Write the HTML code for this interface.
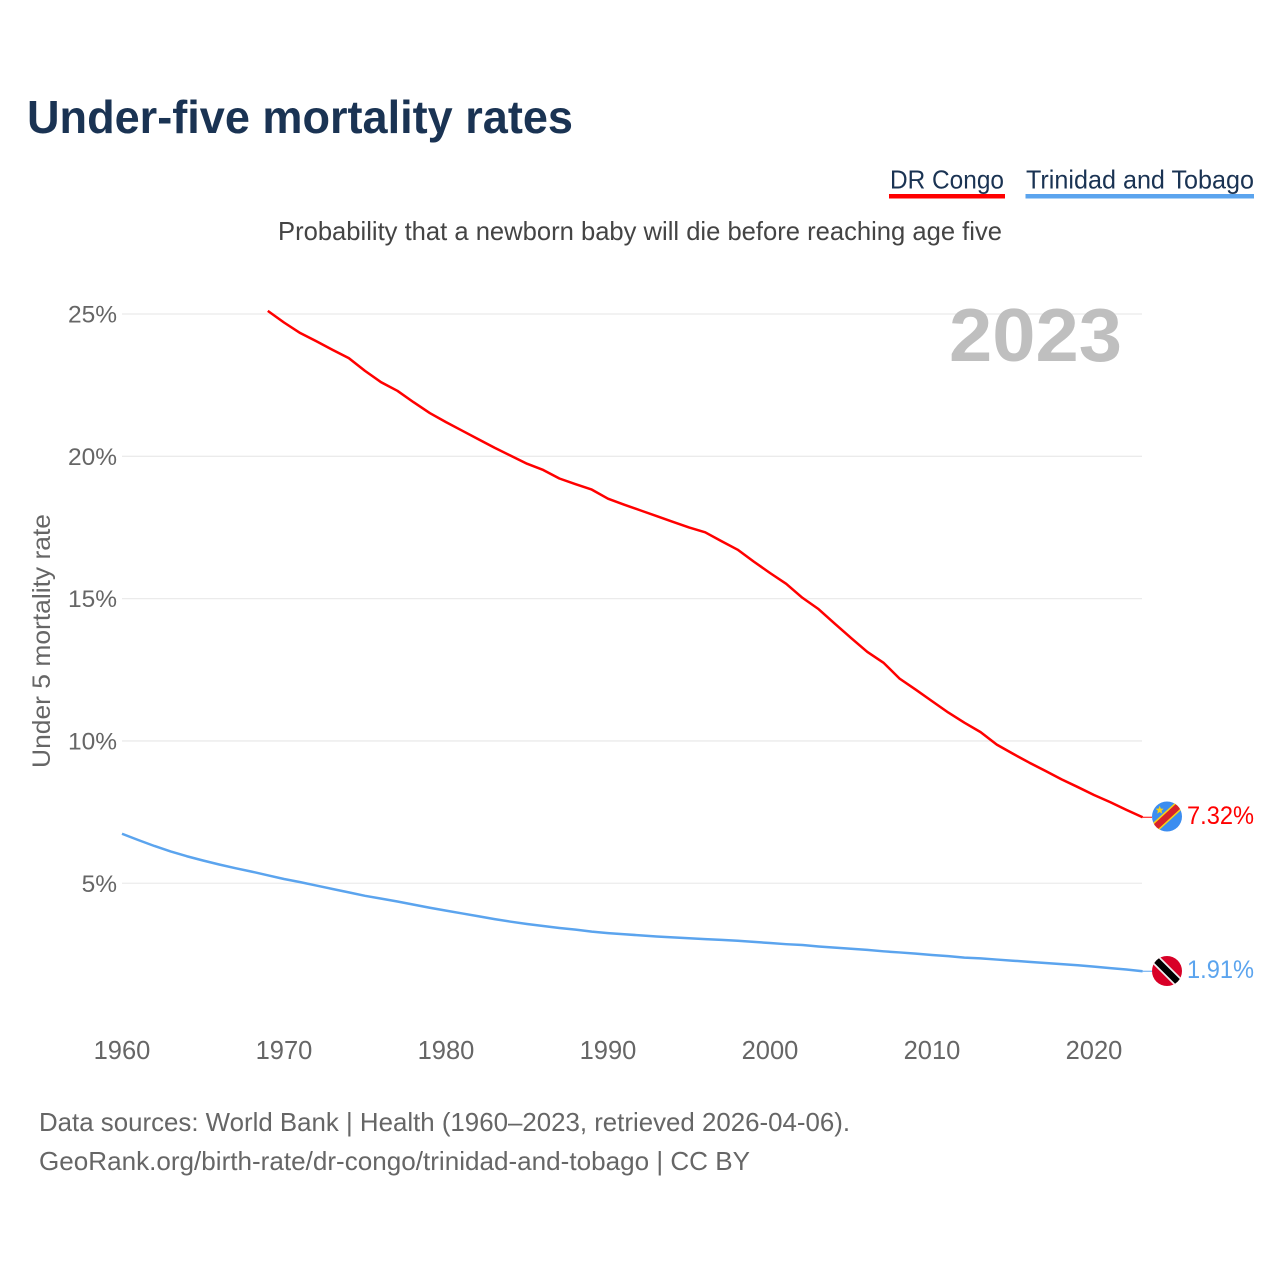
<!DOCTYPE html>
<html lang="en">
<head>
<meta charset="utf-8">
<title>Under-five mortality rates</title>
<style>
html,body{margin:0;padding:0;background:#fff;width:1280px;height:1280px;overflow:hidden}
svg{display:block}
text{font-family:"Liberation Sans",sans-serif}
</style>
</head>
<body>
<svg id="chart" width="1280" height="1280" viewBox="0 0 1280 1280" xmlns="http://www.w3.org/2000/svg">
  <defs>
    <clipPath id="flag-clip-cd"><circle cx="1167" cy="816.5" r="15"/></clipPath>
    <clipPath id="flag-clip-tt"><circle cx="1167" cy="971" r="15"/></clipPath>
  </defs>
  <rect width="1280" height="1280" fill="#fff"/>
  <text x="27" y="133" font-size="46" font-weight="700" fill="#1a3353" textLength="546" lengthAdjust="spacingAndGlyphs">Under-five mortality rates</text>

  <g>
    <text x="890" y="188.5" font-size="26" fill="#1a3353" textLength="114" lengthAdjust="spacingAndGlyphs">DR Congo</text>
    <rect x="889" y="194" width="116" height="4.5" fill="#ff0000"/>
  </g>
  <g>
    <text x="1026" y="188.5" font-size="26" fill="#1a3353" textLength="228" lengthAdjust="spacingAndGlyphs">Trinidad and Tobago</text>
    <rect x="1025.5" y="194" width="228.5" height="4.5" fill="#5ba4ee"/>
  </g>

  <text x="278" y="240" font-size="26" fill="#444" textLength="724" lengthAdjust="spacingAndGlyphs">Probability that a newborn baby will die before reaching age five</text>

  <g id="grid"></g>
  <g id="y-labels"></g>
  <g id="x-labels"></g>

  <text transform="translate(50,768) rotate(-90)" font-size="25" fill="#666" textLength="254" lengthAdjust="spacingAndGlyphs">Under 5 mortality rate</text>
  <text x="949" y="361" font-size="75" font-weight="700" fill="#bfbfbf" textLength="173" lengthAdjust="spacingAndGlyphs">2023</text>

  <g id="series"></g>

  <g clip-path="url(#flag-clip-cd)">
    <rect x="1150" y="800" width="34" height="34" fill="#3b8df0"/>
    <line x1="1149" y1="833" x2="1185" y2="800" stroke="#f7d116" stroke-width="9.5"/>
    <line x1="1149" y1="833" x2="1185" y2="800" stroke="#d8222a" stroke-width="6.5"/>
    <polygon points="1159.7,805.8 1160.8,808.6 1163.7,808.8 1161.5,810.7 1162.2,813.6 1159.7,812 1157.2,813.6 1157.9,810.7 1155.7,808.8 1158.6,808.6" fill="#f7d116"/>
  </g>
  <g clip-path="url(#flag-clip-tt)">
    <rect x="1150" y="954" width="34" height="34" fill="#d80027"/>
    <line x1="1150" y1="954" x2="1184" y2="988" stroke="#eeeeee" stroke-width="10"/>
    <line x1="1150" y1="954" x2="1184" y2="988" stroke="#000" stroke-width="6.5"/>
  </g>

  <text id="label-cd" x="1187" y="824" font-size="25" fill="#ff0000" textLength="67" lengthAdjust="spacingAndGlyphs">7.32%</text>
  <text id="label-tt" x="1187" y="978" font-size="25" fill="#5ba4ee" textLength="67" lengthAdjust="spacingAndGlyphs">1.91%</text>

  <text x="39" y="1131" font-size="26" fill="#666" textLength="811" lengthAdjust="spacingAndGlyphs">Data sources: World Bank | Health (1960–2023, retrieved 2026-04-06).</text>
  <text x="39" y="1170" font-size="26" fill="#666" textLength="711" lengthAdjust="spacingAndGlyphs">GeoRank.org/birth-rate/dr-congo/trinidad-and-tobago | CC BY</text>
</svg>
<script>
var yTicks = [5, 10, 15, 20, 25];
var xTicks = [1960, 1970, 1980, 1990, 2000, 2010, 2020];
var congoStartYear = 1969;
var congoValues = [25.11,24.7,24.33,24.04,23.74,23.45,23.0,22.6,22.3,21.9,21.52,21.2,20.9,20.6,20.3,20.02,19.74,19.52,19.22,19.02,18.83,18.51,18.3,18.1,17.9,17.7,17.5,17.33,17.02,16.72,16.3,15.9,15.52,15.03,14.63,14.12,13.62,13.13,12.75,12.19,11.8,11.4,11.0,10.64,10.31,9.87,9.55,9.24,8.95,8.65,8.38,8.1,7.85,7.58,7.32];
var trinidadStartYear = 1960;
var trinidadValues = [6.74,6.52,6.31,6.12,5.95,5.80,5.66,5.53,5.41,5.28,5.15,5.04,4.92,4.80,4.68,4.56,4.46,4.36,4.25,4.14,4.04,3.94,3.84,3.74,3.65,3.57,3.50,3.43,3.37,3.30,3.25,3.21,3.17,3.13,3.10,3.07,3.04,3.01,2.98,2.94,2.90,2.86,2.83,2.78,2.74,2.70,2.66,2.61,2.57,2.53,2.48,2.44,2.39,2.36,2.32,2.28,2.24,2.20,2.16,2.12,2.07,2.02,1.97,1.91];

var NS = 'http://www.w3.org/2000/svg';
function xScale(year) { return 122 + (year - 1960) * 16.2; }
function yScale(value) { return 1025.6 - value * 28.465; }

var grid = document.getElementById('grid');
var yLabels = document.getElementById('y-labels');
var xLabels = document.getElementById('x-labels');
var series = document.getElementById('series');

yTicks.forEach(function (t) {
  var line = document.createElementNS(NS, 'line');
  
  
  line.setAttribute('x1', 122);
  line.setAttribute('x2', 1142);
  line.setAttribute('y1', yScale(t));
  line.setAttribute('y2', yScale(t));
  line.setAttribute('stroke', '#ebebeb');
  line.setAttribute('stroke-width', '1.3');
  grid.appendChild(line);

  var label = document.createElementNS(NS, 'text');
  
  
  label.setAttribute('x', 117);
  label.setAttribute('y', yScale(t) + 8.5);
  label.setAttribute('text-anchor', 'end');
  label.setAttribute('font-size', '24.5');
  label.setAttribute('fill', '#666');
  label.textContent = t + '%';
  yLabels.appendChild(label);
});

xTicks.forEach(function (t) {
  var label = document.createElementNS(NS, 'text');
  
  
  label.setAttribute('x', xScale(t));
  label.setAttribute('y', 1059);
  label.setAttribute('text-anchor', 'middle');
  label.setAttribute('font-size', '25.5');
  label.setAttribute('fill', '#666');
  label.textContent = t;
  xLabels.appendChild(label);
});

function pathFor(startYear, values) {
  return values.map(function (v, i) {
    return (i ? 'L' : 'M') + xScale(startYear + i).toFixed(2) + ' ' + yScale(v).toFixed(2);
  }).join(' ');
}

var congoLine = document.createElementNS(NS, 'path');


congoLine.setAttribute('d', pathFor(congoStartYear, congoValues));
congoLine.setAttribute('fill', 'none');
congoLine.setAttribute('stroke', '#ff0000');
congoLine.setAttribute('stroke-width', '2.5');
congoLine.setAttribute('stroke-linejoin', 'round');
series.appendChild(congoLine);

var trinidadLine = document.createElementNS(NS, 'path');


trinidadLine.setAttribute('d', pathFor(trinidadStartYear, trinidadValues));
trinidadLine.setAttribute('fill', 'none');
trinidadLine.setAttribute('stroke', '#5ba4ee');
trinidadLine.setAttribute('stroke-width', '2.5');
trinidadLine.setAttribute('stroke-linejoin', 'round');
series.appendChild(trinidadLine);

var congoConnector = document.createElementNS(NS, 'line');


congoConnector.setAttribute('x1', xScale(2023));
congoConnector.setAttribute('x2', 1152);
congoConnector.setAttribute('y1', yScale(congoValues[congoValues.length - 1]));
congoConnector.setAttribute('y2', yScale(congoValues[congoValues.length - 1]));
congoConnector.setAttribute('stroke', '#ff0000');
congoConnector.setAttribute('stroke-width', '1');
series.appendChild(congoConnector);

var trinidadConnector = document.createElementNS(NS, 'line');


trinidadConnector.setAttribute('x1', xScale(2023));
trinidadConnector.setAttribute('x2', 1152);
trinidadConnector.setAttribute('y1', yScale(trinidadValues[trinidadValues.length - 1]));
trinidadConnector.setAttribute('y2', yScale(trinidadValues[trinidadValues.length - 1]));
trinidadConnector.setAttribute('stroke', '#5ba4ee');
trinidadConnector.setAttribute('stroke-width', '1');
series.appendChild(trinidadConnector);
</script>
</body>
</html>
